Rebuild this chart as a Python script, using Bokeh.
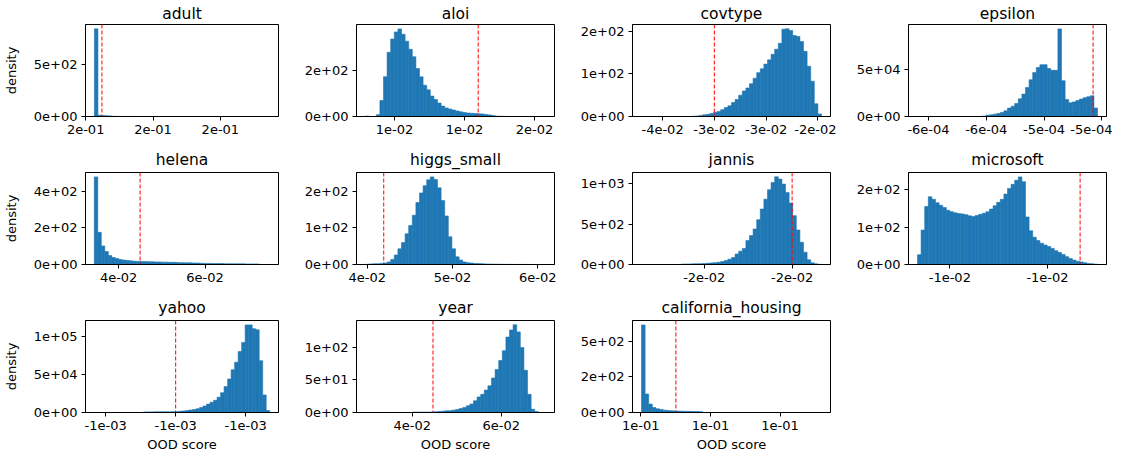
import numpy as np
from bokeh.plotting import figure
from bokeh.layouts import gridplot
from bokeh.models import Range1d, FixedTicker, CustomJSTickFormatter, Span
from bokeh.embed import file_html
from bokeh.resources import INLINE

# ---------------- data ----------------
names = ["adult", "aloi", "covtype", "epsilon", "helena", "higgs_small",
         "jannis", "microsoft", "yahoo", "year", "california_housing"]

adult_xlim = (0.19995, 0.25726)
adult_bins = (0.2026, 0.25466)
adult_threshold = 0.20483
adult_xticks = [0.20, 0.22, 0.24]
adult_xlabels = ["2e-01", "2e-01", "2e-01"]
adult_ymax = 892
adult_yticks = [0, 500]
adult_ylabels = ["0e+00", "5e+02"]
adult_density = [850, 12, 10, 8, 6, 2, 1, 0.5, 0.5, 0.3,
                 0.3, 0.2, 0.2, 0.1, 0.1, 0, 0, 0, 0, 0,
                 0, 0, 0, 0, 0, 0, 0, 0, 0, 0,
                 0, 0, 0, 0, 0, 0, 0, 0, 0, 0,
                 0, 0, 0, 0, 0, 0, 0, 0, 0, 0]

aloi_xlim = (0.0111429, 0.0182143)
aloi_bins = (0.0114643, 0.0178929)
aloi_threshold = 0.0154893
aloi_xticks = [0.0125, 0.015, 0.0175]
aloi_xlabels = ["1e-02", "1e-02", "2e-02"]
aloi_ymax = 397
aloi_yticks = [0, 200]
aloi_ylabels = ["0e+00", "2e+02"]
aloi_density = [2, 0, 0, 8, 69, 172, 277, 334, 365, 378,
                355, 325, 290, 258, 207, 171, 135, 115, 88, 73,
                58, 45, 37, 32, 28, 24, 20, 17, 15, 14,
                13, 12, 11, 9, 7, 4, 1.5, 1, 0.5, 0,
                0, 0, 0, 0, 0, 0, 0, 0, 0, 0]

covtype_xlim = (-0.037903, -0.018781)
covtype_bins = (-0.037034, -0.019650)
covtype_threshold = -0.030
covtype_xticks = [-0.035, -0.030, -0.025, -0.020]
covtype_xlabels = ["-4e-02", "-3e-02", "-3e-02", "-2e-02"]
covtype_ymax = 216
covtype_yticks = [0, 100, 200]
covtype_ylabels = ["0e+00", "1e+02", "2e+02"]
covtype_density = [0, 0, 0, 0, 0, 0, 0, 0, 0, 0,
                   0, 0, 0, 0, 0.5, 1, 2.5, 4, 5, 7,
                   10, 12, 16, 21, 25, 33, 40, 50, 60, 67,
                   77, 90, 103, 112, 123, 133, 146, 158, 172, 205,
                   206, 202, 190, 188, 176, 153, 118, 83, 30, 6]

epsilon_xlim = (-0.000586924, -0.000518376)
epsilon_bins = (-0.000583808, -0.000521492)
epsilon_threshold = -0.00052302
epsilon_xticks = [-0.00058, -0.00056, -0.00054, -0.00052]
epsilon_xlabels = ["-6e-04", "-6e-04", "-5e-04", "-5e-04"]
epsilon_ymax = 97650
epsilon_yticks = [0, 50000]
epsilon_ylabels = ["0e+00", "5e+04"]
epsilon_density = [0, 0, 0, 0, 0, 0, 0, 0, 0, 0,
                   0, 0, 0, 0, 0, 0, 0, 0, 500, 1400,
                   1800, 2500, 3200, 4300, 6000, 8900, 11000, 13800, 18800, 23800,
                   30900, 39000, 46800, 52100, 55000, 55000, 51000, 49000, 49000, 93000,
                   38000, 18000, 14500, 15500, 17000, 18500, 20000, 21000, 22000, 9000]

helena_xlim = (0.0323337, 0.0769786)
helena_bins = (0.034363, 0.0749493)
helena_threshold = 0.0449605
helena_xticks = [0.04, 0.06]
helena_xlabels = ["4e-02", "6e-02"]
helena_ymax = 504
helena_yticks = [0, 200, 400]
helena_ylabels = ["0e+00", "2e+02", "4e+02"]
helena_density = [480, 176, 102, 71, 49, 38, 33, 27, 24, 22,
                  20, 18, 17, 16, 16, 15, 15, 14, 14, 13,
                  13, 12, 12, 11, 10, 10, 9, 9, 8, 8,
                  7, 6, 6, 6, 5, 5, 5, 4, 4, 4,
                  4, 3.5, 3.5, 3, 3, 3, 3, 0, 0, 0]

higgs_xlim = (0.0387456, 0.0619578)
higgs_bins = (0.0398007, 0.0609027)
higgs_threshold = 0.04194
higgs_xticks = [0.04, 0.05, 0.06]
higgs_xlabels = ["4e-02", "5e-02", "6e-02"]
higgs_ymax = 252
higgs_yticks = [0, 100, 200]
higgs_ylabels = ["0e+00", "1e+02", "2e+02"]
higgs_density = [0.5, 1.5, 2, 2, 3, 4, 7, 14, 26, 43,
                 60, 84, 107, 135, 170, 196, 216, 232, 240, 233,
                 210, 175, 133, 76, 43, 21, 12, 7, 5, 4,
                 3, 2.5, 2, 1.5, 1.2, 1, 0.8, 0.6, 0.5, 0.3,
                 0.3, 0.2, 0.2, 0.1, 0.1, 0, 0, 0, 0, 0]

jannis_xlim = (-0.0216328, -0.0171265)
jannis_bins = (-0.021428, -0.0173313)
jannis_threshold = -0.018
jannis_xticks = [-0.020, -0.018]
jannis_xlabels = ["-2e-02", "-2e-02"]
jannis_ymax = 1140
jannis_yticks = [0, 500, 1000]
jannis_ylabels = ["0e+00", "5e+02", "1e+03"]
jannis_density = [0, 0, 0, 0, 0, 0, 0, 0, 0, 0,
                  0, 5, 6, 7, 8, 9, 10, 12, 15, 19,
                  23, 28, 36, 50, 66, 86, 130, 165, 198, 296,
                  358, 440, 555, 687, 810, 926, 1016, 1086, 1058, 996,
                  893, 761, 605, 428, 276, 152, 58, 21, 8, 2]

microsoft_xlim = (-0.0156909, -0.0075844)
microsoft_bins = (-0.0153224, -0.0079529)
microsoft_threshold = -0.0086653
microsoft_xticks = [-0.014, -0.010]
microsoft_xlabels = ["-1e-02", "-1e-02"]
microsoft_ymax = 245.7
microsoft_yticks = [0, 100, 200]
microsoft_ylabels = ["0e+00", "1e+02", "2e+02"]
microsoft_density = [26, 92, 155, 181, 174, 165, 158, 152, 145, 141,
                     138, 136, 135, 133, 130, 128, 131, 134, 137, 141,
                     148, 157, 166, 174, 188, 203, 214, 225, 234, 221,
                     127, 90, 73, 64, 57, 52, 48, 43, 37, 32,
                     27, 21, 16, 12, 9, 7, 5, 3, 2, 1]

yahoo_xlim = (-0.001045766, -0.000990613)
yahoo_bins = (-0.001043259, -0.00099312)
yahoo_threshold = -0.00102
yahoo_xticks = [-0.00104, -0.00102, -0.00100]
yahoo_xlabels = ["-1e-03", "-1e-03", "-1e-03"]
yahoo_ymax = 120750
yahoo_yticks = [0, 50000, 100000]
yahoo_ylabels = ["0e+00", "5e+04", "1e+05"]
yahoo_density = [0, 0, 0, 0, 0, 0, 0, 0, 0, 0,
                 0, 0, 0, 0, 700, 800, 800, 900, 900, 900,
                 1000, 1000, 1100, 1200, 1600, 2000, 2600, 3200, 3900, 5000,
                 6500, 8500, 11000, 13500, 16000, 20000, 26000, 34000, 44000, 56000,
                 66000, 80000, 92000, 115000, 115000, 110000, 108500, 68000, 23000, 2500]

year_xlim = (0.0274831, 0.0719775)
year_bins = (0.0295056, 0.069955)
year_threshold = 0.0446742
year_xticks = [0.04, 0.06]
year_xlabels = ["4e-02", "6e-02"]
year_ymax = 141.5
year_yticks = [0, 50, 100]
year_ylabels = ["0e+00", "5e+01", "1e+02"]
year_density = [0, 0, 0, 0, 0, 0, 0, 0, 0, 0,
                0, 0, 0, 0.7, 0.7, 0.7, 0.7, 0.7, 0.8, 1,
                1.6, 2, 2.5, 2.7, 3.6, 4.6, 6.2, 7.7, 10.3, 13,
                18, 24, 28, 34.5, 41, 53, 66, 80, 95, 116,
                127, 135, 124, 100, 65, 28, 5, 1.5, 0, 0]

california_xlim = (0.0976115, 0.1544748)
california_bins = (0.1001962, 0.1518901)
california_threshold = 0.1100719
california_xticks = [0.10, 0.12, 0.14]
california_xlabels = ["1e-01", "1e-01", "1e-01"]
california_ymax = 646
california_yticks = [0, 250, 500]
california_ylabels = ["0e+00", "2e+02", "5e+02"]
california_density = [615, 130, 59, 35, 26, 21, 16.5, 14, 12, 11,
                      10, 9, 8, 8, 7, 7, 6, 0, 0, 0,
                      0, 0, 0, 0, 0, 0, 0, 0, 0, 0,
                      0, 0, 0, 0, 0, 0, 0, 0, 0, 0,
                      0, 0, 0, 0, 0, 0, 0, 0, 0, 0]

panels = [
    (adult_xlim, adult_bins, adult_density, adult_threshold, adult_xticks, adult_xlabels, adult_ymax, adult_yticks, adult_ylabels),
    (aloi_xlim, aloi_bins, aloi_density, aloi_threshold, aloi_xticks, aloi_xlabels, aloi_ymax, aloi_yticks, aloi_ylabels),
    (covtype_xlim, covtype_bins, covtype_density, covtype_threshold, covtype_xticks, covtype_xlabels, covtype_ymax, covtype_yticks, covtype_ylabels),
    (epsilon_xlim, epsilon_bins, epsilon_density, epsilon_threshold, epsilon_xticks, epsilon_xlabels, epsilon_ymax, epsilon_yticks, epsilon_ylabels),
    (helena_xlim, helena_bins, helena_density, helena_threshold, helena_xticks, helena_xlabels, helena_ymax, helena_yticks, helena_ylabels),
    (higgs_xlim, higgs_bins, higgs_density, higgs_threshold, higgs_xticks, higgs_xlabels, higgs_ymax, higgs_yticks, higgs_ylabels),
    (jannis_xlim, jannis_bins, jannis_density, jannis_threshold, jannis_xticks, jannis_xlabels, jannis_ymax, jannis_yticks, jannis_ylabels),
    (microsoft_xlim, microsoft_bins, microsoft_density, microsoft_threshold, microsoft_xticks, microsoft_xlabels, microsoft_ymax, microsoft_yticks, microsoft_ylabels),
    (yahoo_xlim, yahoo_bins, yahoo_density, yahoo_threshold, yahoo_xticks, yahoo_xlabels, yahoo_ymax, yahoo_yticks, yahoo_ylabels),
    (year_xlim, year_bins, year_density, year_threshold, year_xticks, year_xlabels, year_ymax, year_yticks, year_ylabels),
    (california_xlim, california_bins, california_density, california_threshold, california_xticks, california_xlabels, california_ymax, california_yticks, california_ylabels),
]

FONT = "DejaVu Sans"
BAR = "#1f77b4"
TICK_FS = "13px"
TITLE_FS = "15.5px"

LABEL_CODE = """
let best = -1, bd = Infinity;
for (let i = 0; i < vals.length; i++) {
  const d = Math.abs(vals[i] - tick);
  if (d < bd) { bd = d; best = i; }
}
return best >= 0 ? labs[best] : "";
"""


def style_axis(ax, ticks, labels):
    ax.ticker = FixedTicker(ticks=ticks, minor_ticks=[])
    ax.formatter = CustomJSTickFormatter(args=dict(vals=ticks, labs=labels), code=LABEL_CODE)
    ax.major_label_text_font = FONT
    ax.major_label_text_font_size = TICK_FS
    ax.major_label_text_color = "black"
    ax.major_tick_in = 0
    ax.major_tick_out = 4
    ax.major_tick_line_color = "black"
    ax.major_tick_line_width = 1
    ax.minor_tick_line_color = None
    ax.axis_line_color = "black"
    ax.axis_line_width = 1
    ax.major_label_standoff = 4
    ax.axis_label_text_font = FONT
    ax.axis_label_text_font_size = TICK_FS
    ax.axis_label_text_font_style = "normal"
    ax.axis_label_text_color = "black"


# per-row borders (top, bottom) and per-column left borders, in px
ROW_BORDERS = [(24, 27), (29, 27), (29, 44)]
COL_LEFT = [80, 72, 72, 72]
TITLE_STANDOFF = [0, 7, 7]
TITLE_VALIGN = ["top", "bottom", "bottom"]
FW, FH = 198, 92

figs = []
for i, (name, spec) in enumerate(zip(names, panels)):
    xlim, bins, dens, thr, xt, xl, ymax, yt, yl = spec
    row, col = divmod(i, 4)
    top_b, bot_b = ROW_BORDERS[row]
    left_b = COL_LEFT[col]
    edges = np.linspace(bins[0], bins[1], len(dens) + 1)
    dens = np.asarray(dens, dtype=float)
    keep = dens > 0
    p = figure(width=left_b + FW + 6, height=top_b + FH + bot_b,
               x_range=Range1d(*xlim), y_range=Range1d(0, ymax),
               output_backend="svg", toolbar_location=None, title=name,
               min_border_left=left_b, min_border_right=6,
               min_border_top=top_b, min_border_bottom=bot_b)
    p.quad(left=edges[:-1][keep], right=edges[1:][keep], bottom=0, top=dens[keep],
           fill_color=BAR, line_color=BAR, line_width=0.6)
    p.add_layout(Span(location=thr, dimension="height", line_color="red",
                      line_dash="4 2", line_width=1))
    p.title.text_font = FONT
    p.title.text_font_size = TITLE_FS
    p.title.text_font_style = "normal"
    p.title.text_color = "black"
    p.title.align = "center"
    p.title.standoff = TITLE_STANDOFF[row]
    p.title.vertical_align = TITLE_VALIGN[row]
    p.xgrid.visible = False
    p.ygrid.visible = False
    p.outline_line_color = "black"
    p.outline_line_width = 1
    p.background_fill_color = "white"
    p.border_fill_color = "white"
    style_axis(p.xaxis[0], xt, xl)
    style_axis(p.yaxis[0], yt, yl)
    if col == 0:
        p.yaxis[0].axis_label = "density"
        p.yaxis[0].axis_label_standoff = 12
    if row == 2:
        p.xaxis[0].axis_label = "OOD score"
        p.xaxis[0].axis_label_standoff = 4
    figs.append(p)

grid = gridplot([figs[0:4], figs[4:8], figs[8:11] + [None]], toolbar_location=None)

open("out.html", "w").write(file_html(grid, INLINE))
